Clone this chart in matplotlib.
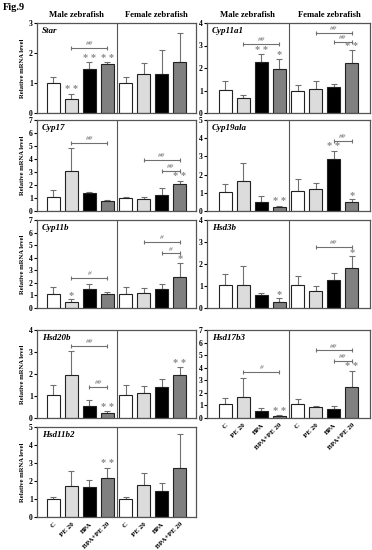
import numpy as np
import matplotlib
matplotlib.use('Agg')
from matplotlib import pyplot as plt

plt.rcParams['font.family'] = ['Liberation Serif', 'DejaVu Serif']

groups = ['C', 'PE 20', 'BPA', 'BPA+PE 20']

# means / upper errors, male (first 4) then female (last 4)
star_m = [1.0, 0.47, 1.47, 1.65, 1.0, 1.31, 1.29, 1.70]
star_e = [0.2, 0.18, 0.22, 0.05, 0.2, 0.37, 0.81, 0.98]
cyp11a1_m = [1.01, 0.68, 2.25, 1.95, 1.0, 1.07, 1.14, 2.22]
cyp11a1_e = [0.41, 0.12, 0.36, 0.47, 0.25, 0.35, 0.14, 0.57]
cyp17_m = [1.11, 3.08, 1.35, 0.75, 1.01, 0.91, 1.24, 2.05]
cyp17_e = [0.52, 1.79, 0.13, 0.13, 0.08, 0.15, 0.50, 0.28]
cyp19a1_m = [1.06, 1.67, 0.50, 0.22, 1.11, 1.22, 2.85, 0.50]
cyp19a1_e = [0.42, 0.94, 0.33, 0.08, 0.63, 0.34, 0.46, 0.15]
cyp11b_m = [1.09, 0.47, 1.53, 1.09, 1.11, 1.19, 1.55, 2.46]
cyp11b_e = [0.57, 0.23, 0.41, 0.15, 0.55, 0.44, 0.32, 1.14]
hsd3b_m = [1.06, 1.03, 0.60, 0.29, 1.03, 0.78, 1.26, 1.81]
hsd3b_e = [0.50, 0.87, 0.10, 0.15, 0.41, 0.23, 0.33, 0.54]
hsd20b_m = [1.06, 1.96, 0.55, 0.21, 1.06, 1.13, 1.42, 1.96]
hsd20b_e = [0.43, 1.10, 0.26, 0.09, 0.43, 0.33, 0.37, 0.35]
hsd17b3_m = [1.08, 1.64, 0.59, 0.18, 1.08, 0.87, 0.72, 2.49]
hsd17b3_e = [0.54, 1.56, 0.18, 0.05, 0.46, 0.05, 0.20, 1.28]
hsd11b2_m = [0.98, 1.72, 1.68, 2.15, 0.98, 1.79, 1.47, 2.70]
hsd11b2_e = [0.15, 0.83, 0.36, 0.59, 0.15, 0.63, 0.40, 1.90]

# significance marks: (bar, text) and brackets: (bar_from, bar_to, y, text)
star_sig = [(1, '**'), (2, '**'), (3, '**')]
star_br = [(1, 3, 2.17, '##')]
cyp11a1_sig = [(2, '**'), (3, '*'), (7, '**')]
cyp11a1_br = [(1, 3, 3.06, '##'), (5, 7, 3.55, '##'), (6, 7, 3.15, '##')]
cyp17_sig = [(7, '**')]
cyp17_br = [(1, 3, 5.26, '##'), (5, 7, 3.96, '##'), (6, 7, 3.08, '##')]
cyp19a1_sig = [(3, '**'), (6, '**'), (7, '*')]
cyp19a1_br = [(6, 7, 3.85, '##')]
cyp11b_sig = [(1, '*'), (7, '*')]
cyp11b_br = [(1, 3, 2.38, '#'), (5, 7, 5.26, '#'), (6, 7, 4.35, '#')]
hsd3b_sig = [(3, '*'), (7, '*')]
hsd3b_br = [(5, 7, 2.79, '##')]
hsd20b_sig = [(3, '**'), (7, '**')]
hsd20b_br = [(1, 3, 3.28, '##'), (2, 3, 1.43, '##')]
hsd17b3_sig = [(3, '**'), (7, '**')]
hsd17b3_br = [(1, 3, 3.67, '#'), (5, 7, 5.38, '##'), (6, 7, 4.56, '##')]
hsd11b2_sig = [(3, '**')]
hsd11b2_br = []

bar_colors = ['white', '#dcdcdc', 'black', '#808080'] * 2
grey = '#707070'

W, H = 372.0, 550.0


# pixel box -> figure rect
def rect(x0, x1, top, bottom):
    return [x0 / W, 1 - bottom / H, (x1 - x0) / W, (bottom - top) / H]


def draw_panel(ax, name, m, e, sig, br, ymax, xlim, ylabel, xlabels):
    x = np.arange(8)
    ax.bar(x, m, width=0.72, color=bar_colors, edgecolor='#222222', linewidth=0.8, zorder=2)
    ax.errorbar(x, m, yerr=[np.zeros(8), e], fmt='none', ecolor=grey,
                elinewidth=0.8, capsize=2.2, capthick=0.8, zorder=1)
    ax.axvline(3.5, color='#555555', lw=0.8)
    for i, t in sig:
        ax.annotate(' '.join(t), (i, m[i] + e[i]), xytext=(0, -0.5), textcoords='offset points',
                    ha='center', va='bottom', fontsize=7.5, color='#8a8a8a', fontweight='bold')
    for i, j, y, t in br:
        ax.plot([i, j], [y, y], color=grey, lw=0.8, marker='|', markersize=3.5, mew=0.8)
        ax.text((i + j) / 2, y + ymax * 0.02, t, ha='center', va='bottom',
                fontsize=5.2, color=grey, style='italic')
    ax.set_xlim(*xlim)
    ax.set_ylim(0, ymax)
    ax.set_yticks(range(ymax + 1))
    ax.tick_params(axis='y', length=2, width=0.8, pad=1, labelsize=5.5)
    for lab in ax.get_yticklabels():
        lab.set_fontweight('bold')
    if xlabels:
        ax.set_xticks(x)
        ax.set_xticklabels(groups * 2, rotation=45, ha='right', rotation_mode='anchor',
                           fontsize=5, fontweight='bold')
        ax.tick_params(axis='x', length=0, pad=3)
    else:
        ax.set_xticks([])
    for s in ax.spines.values():
        s.set_color('#555555')
        s.set_linewidth(0.9)
    ax.text(0.03, 0.96, name, transform=ax.transAxes, ha='left', va='top',
            fontsize=6.5, fontweight='bold', style='italic')
    if ylabel:
        ax.set_ylabel('Relative mRNA level', fontsize=4.8, fontweight='bold', labelpad=3)


fig = plt.figure(figsize=(3.72, 5.50), dpi=100)

left = (37, 196, (-0.9, 7.9))
right = (207, 370, (-1.0, 8.0))
panels = [
    (left, 23, 113, 'Star', star_m, star_e, star_sig, star_br, 3, False),
    (right, 23, 113, 'Cyp11a1', cyp11a1_m, cyp11a1_e, cyp11a1_sig, cyp11a1_br, 4, False),
    (left, 120, 211, 'Cyp17', cyp17_m, cyp17_e, cyp17_sig, cyp17_br, 7, False),
    (right, 120, 211, 'Cyp19ala', cyp19a1_m, cyp19a1_e, cyp19a1_sig, cyp19a1_br, 5, False),
    (left, 220, 308, 'Cyp11b', cyp11b_m, cyp11b_e, cyp11b_sig, cyp11b_br, 7, False),
    (right, 220, 308, 'Hsd3b', hsd3b_m, hsd3b_e, hsd3b_sig, hsd3b_br, 4, False),
    (left, 330, 418, 'Hsd20b', hsd20b_m, hsd20b_e, hsd20b_sig, hsd20b_br, 4, False),
    (right, 330, 418, 'Hsd17b3', hsd17b3_m, hsd17b3_e, hsd17b3_sig, hsd17b3_br, 7, True),
    (left, 427, 517, 'Hsd11b2', hsd11b2_m, hsd11b2_e, hsd11b2_sig, hsd11b2_br, 5, True),
]

for col, top, bot, name, m, e, sig, br, ymax, xl in panels:
    ax = fig.add_axes(rect(col[0], col[1], top, bot))
    draw_panel(ax, name, m, e, sig, br, ymax, col[2], col is left, xl)

# column headers
for x0, x1 in [(37, 196), (207, 370)]:
    mid = (x0 + x1) / 2
    fig.text(((x0 + mid) / 2) / W, 1 - 15 / H, 'Male zebrafish', ha='center', va='center',
             fontsize=6.2, fontweight='bold')
    fig.text(((mid + x1) / 2) / W, 1 - 15 / H, 'Female zebrafish', ha='center', va='center',
             fontsize=6.2, fontweight='bold')

fig.text(3 / W, 1 - 8 / H, 'Fig.9', ha='left', va='center', fontsize=7.5, fontweight='bold')

plt.savefig('out.png', dpi=100)
